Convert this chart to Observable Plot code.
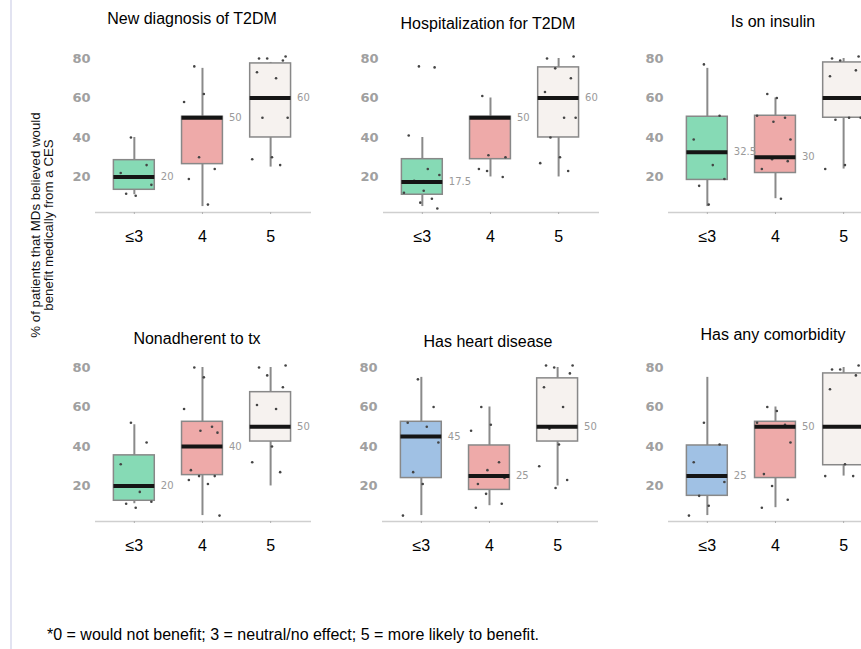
<!DOCTYPE html>
<html>
<head>
<meta charset="utf-8">
<script src="https://cdn.jsdelivr.net/npm/d3@7"></script>
<script src="https://cdn.jsdelivr.net/npm/@observablehq/plot@0.6"></script>
<style>
  html, body { margin: 0; padding: 0; background: #fff; overflow: hidden; }
  body { width: 861px; height: 649px; position: relative; font-family: "Liberation Sans", Arial, sans-serif; }
  .leftline { position: absolute; left: 10px; top: 0; width: 2px; height: 649px; background: #e2e3f1; }
  .title { position: absolute; width: 260px; text-align: center; font-size: 16px; line-height: 16px; color: #000; white-space: nowrap; }
  .panel { position: absolute; width: 280px; height: 222px; }
  .panel svg { max-width: none !important; }
  .ytitle { position: absolute; left: 42px; top: 225px; transform: translate(-50%, -50%) rotate(-90deg); font-size: 13.3px; line-height: 13px; text-align: center; white-space: nowrap; color: #111; }
  .foot { position: absolute; left: 47px; top: 626px; font-size: 16px; color: #000; white-space: nowrap; }
</style>
</head>
<body>
<div class="leftline"></div>
<div class="ytitle">% of patients that MDs believed would<br>benefit medically from a CES</div>
<div class="foot">*0 = would not benefit; 3 = neutral/no effect; 5 = more likely to benefit.</div>
<script>
// ---- data ----
const panelTitles = ["New diagnosis of T2DM", "Hospitalization for T2DM", "Is on insulin",
                     "Nonadherent to tx", "Has heart disease", "Has any comorbidity"];
const groups = ["≤3", "4", "5"];
const yTicks = [20, 40, 60, 80];

const whiskerLow  = [[11, 5, 25], [5, 20, 20], [5, 9, 24], [11, 5, 20], [5, 10, 20], [5, 9, 25]];
const quartile1   = [[13.5, 26.5, 40], [11, 29, 40], [18.5, 22, 50], [12.5, 25.5, 42.5], [24, 18, 42.5], [15, 24, 30.5]];
const medians     = [[20, 50, 60], [17.5, 50, 60], [32.5, 30, 60], [20, 40, 50], [45, 25, 50], [25, 50, 50]];
const quartile3   = [[28.5, 50.5, 77.5], [29, 50.5, 75.5], [50.5, 51, 78], [35.5, 52.5, 67.5], [52.5, 40.5, 74.5], [40.5, 52.5, 77]];
const whiskerHigh = [[40, 75, 78], [40, 60, 80], [75, 60, 80], [51, 80, 80], [75, 60, 80], [75, 60, 80]];

const points = [
  [[40, 26, 22, 20, 16, 11.5, 10.5], [76, 62, 58, 50, 50, 50, 50, 30, 24, 19, 6], [81, 80, 80, 79, 73, 70, 50, 50, 30, 29, 26]],
  [[76, 75.5, 41, 24, 21, 18, 13, 12, 9, 7, 4], [61, 50, 50, 50, 31, 30, 24, 23, 20], [81, 80, 75, 70, 63, 50, 50, 40, 30, 27, 23]],
  [[77, 51, 39, 26, 19, 15.5, 6], [62, 60, 51, 50, 48, 39, 30, 29, 28, 24, 9], [81, 80, 79, 74, 71, 50, 50, 49, 26, 24]],
  [[52, 42, 31, 17, 12, 11, 9], [80, 75, 59, 50, 48, 47, 28, 25, 25, 23, 21, 5], [81, 80, 76, 70, 61, 59, 50, 50, 40, 32, 27]],
  [[74, 60, 52, 50, 42, 27, 21, 5], [60, 51, 48, 32, 28, 24, 21, 16, 11, 9], [81, 81, 80, 77, 70, 60, 50, 49, 41, 30, 23, 19]],
  [[52, 41, 32, 25, 22, 15, 10, 5], [60, 58, 52, 51, 50, 42, 26, 20, 13, 9], [81, 79, 79, 76, 69, 50, 50, 50, 31, 25, 25]]
];

// ---- layout / style ----
const GREEN = "#86dab5", PINK = "#eeaaa9", LIGHT = "#f6f2ef", BLUE = "#a0c1e4";
const boxColors = [
  [GREEN, PINK, LIGHT], [GREEN, PINK, LIGHT], [GREEN, PINK, LIGHT],
  [GREEN, PINK, LIGHT], [BLUE, PINK, LIGHT], [BLUE, PINK, LIGHT]
];
const panelPos = [
  {left: 44, top: 30, tx: 192, ty: 19}, {left: 332, top: 30, tx: 488, ty: 24}, {left: 617, top: 30, tx: 773, ty: 22},
  {left: 44, top: 339, tx: 197, ty: 339}, {left: 331, top: 339, tx: 488, ty: 342}, {left: 617, top: 339, tx: 773, ty: 335}
];
const W = 280, ML = 51, MR = 13;
const xDomain = [-0.57, 2.6];
const yDomain = [2, 80];
const half = 0.3;
const pageWidth = 861;

function jitter(k, g) {
  // deterministic spread of dots around the category centre
  const pattern = [-0.05, 0.18, -0.2, 0.08, 0.25, -0.12, 0.02, -0.27, 0.14, -0.03, 0.22, -0.17];
  return pattern[(k + g * 5) % pattern.length];
}
// page x (in px) of a value on a panel's x scale, used only to drop labels the page cuts off
function pageX(p, v) {
  return panelPos[p].left + ML + (v - xDomain[0]) / (xDomain[1] - xDomain[0]) * (W - ML - MR);
}

panelTitles.forEach((title, p) => {
  const stats = groups.map((g, i) => ({
    i, lo: whiskerLow[p][i], q1: quartile1[p][i], med: medians[p][i],
    q3: quartile3[p][i], hi: whiskerHigh[p][i], color: boxColors[p][i]
  }));
  const visibleLabels = stats.filter(d => pageX(p, d.i + half) + 6 + 14 < pageWidth);
  const pts = [];
  points[p].forEach((arr, i) => arr.forEach((v, k) => pts.push({i, v, k})));

  const chart = Plot.plot({
    width: W,
    height: 222,
    marginLeft: ML,
    marginRight: MR,
    marginTop: 28,
    marginBottom: 40,
    style: {background: "transparent", overflow: "visible", maxWidth: "none"},
    x: {type: "linear", domain: xDomain},
    y: {domain: yDomain},
    marks: [
      Plot.ruleY([yDomain[0]], {stroke: "#cfcfcf", strokeWidth: 1.5}),
      Plot.axisY({ticks: yTicks, tickSize: 0, tickPadding: 5, label: null,
                  fill: "#a0a0a0", fontSize: 13, fontFamily: "DejaVu Sans", fontWeight: "bold"}),
      Plot.axisX({ticks: [0, 1, 2], tickFormat: i => groups[i], tickSize: 2, stroke: "#b0b0b0",
                  tickPadding: 16, label: null, fill: "#000", fontSize: 16,
                  fontFamily: "Liberation Sans, Arial, sans-serif"}),
      Plot.ruleX(stats, {x: "i", y1: "lo", y2: "hi", stroke: "#8a8a8a", strokeWidth: 2}),
      Plot.rect(stats, {x1: d => d.i - half, x2: d => d.i + half, y1: "q1", y2: "q3",
                        fill: d => d.color, stroke: "#888", strokeWidth: 1.5}),
      Plot.dot(pts, {x: d => d.i + jitter(d.k, d.i), y: "v", r: 1.3, fill: "#444", stroke: null}),
      Plot.ruleY(stats, {y: "med", x1: d => d.i - half, x2: d => d.i + half, stroke: "#151515", strokeWidth: 4}),
      Plot.text(visibleLabels, {x: d => d.i + half, y: "med", text: d => String(d.med), dx: 6, textAnchor: "start",
                        fill: "#9a9a9a", fontSize: 10, fontFamily: "DejaVu Sans"})
    ]
  });
  const wrap = document.createElement("div");
  wrap.className = "panel";
  wrap.style.left = panelPos[p].left + "px";
  wrap.style.top = panelPos[p].top + "px";
  wrap.appendChild(chart);
  document.body.appendChild(wrap);

  const t = document.createElement("div");
  t.className = "title";
  t.textContent = title;
  t.style.left = (panelPos[p].tx - 130) + "px";
  t.style.top = (panelPos[p].ty - 8) + "px";
  document.body.appendChild(t);
});
</script>
</body>
</html>
